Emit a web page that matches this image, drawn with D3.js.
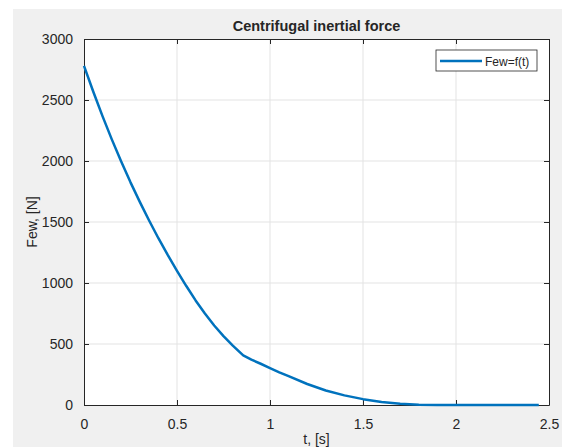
<!DOCTYPE html>
<html>
<head>
<meta charset="utf-8">
<script src="https://cdn.jsdelivr.net/npm/d3@7"></script>
<style>
  body { margin: 0; background: #fff; }
  text { font-family: "Liberation Sans", Arial, sans-serif; fill: #262626; }
</style>
</head>
<body>
<svg id="chart" width="562" height="447"></svg>
<script>
// time, s
var tValues = [0, 0.05, 0.1, 0.15, 0.2, 0.25, 0.3, 0.35, 0.4, 0.45, 0.5, 0.55,
    0.6, 0.65, 0.7, 0.75, 0.8, 0.856, 0.9, 0.95, 1.0, 1.05, 1.1, 1.2, 1.3, 1.4,
    1.5, 1.6, 1.7, 1.8, 1.9, 2.0, 2.2, 2.445];
// centrifugal inertial force, N
var fewValues = [2780, 2568, 2366, 2175, 1995, 1825, 1665, 1512, 1367, 1230, 1100, 975,
    857, 750, 652, 565, 487, 406, 372, 338, 303, 268, 236, 172, 119, 79,
    48, 25, 10, 2, 0, 0, 0, 0];
var xTicks = [0, 0.5, 1, 1.5, 2, 2.5];
var yTicks = [0, 500, 1000, 1500, 2000, 2500, 3000];

var svg = d3.select("#chart"),
    margin = {top: 39, right: 13, bottom: 42, left: 84},
    width = 562 - margin.left - margin.right,
    height = 447 - margin.top - margin.bottom;

// figure background
svg.append("rect")
    .attr("x", 13).attr("y", 9)
    .attr("width", 562 - 13).attr("height", 447 - 9)
    .attr("fill", "#f0f0f0");

var g = svg.append("g").attr("transform", "translate(" + margin.left + "," + margin.top + ")");

var x = d3.scaleLinear().domain([0, 2.5]).range([0, width]);
var y = d3.scaleLinear().domain([0, 3000]).range([height, 0]);

g.append("rect")
    .attr("width", width).attr("height", height)
    .attr("fill", "#fff");

// grid
g.append("g").selectAll("line")
    .data(xTicks.slice(1, -1))
    .enter().append("line")
    .attr("x1", function (d) { return x(d); })
    .attr("x2", function (d) { return x(d); })
    .attr("y1", 0).attr("y2", height)
    .attr("stroke", "#e3e3e3");

g.append("g").selectAll("line")
    .data(yTicks.slice(1, -1))
    .enter().append("line")
    .attr("y1", function (d) { return y(d); })
    .attr("y2", function (d) { return y(d); })
    .attr("x1", 0).attr("x2", width)
    .attr("stroke", "#e3e3e3");

// axes, ticks inside
var xAxis = g.append("g")
    .attr("transform", "translate(0," + height + ")")
    .call(d3.axisBottom(x).tickValues(xTicks).tickSizeInner(-5).tickSizeOuter(0).tickPadding(14)
        .tickFormat(d3.format("")));
var xTop = g.append("g")
    .call(d3.axisTop(x).tickValues(xTicks).tickSizeInner(-5).tickSizeOuter(0).tickFormat(""));
var yAxis = g.append("g")
    .call(d3.axisLeft(y).tickValues(yTicks).tickSizeInner(-5).tickSizeOuter(0).tickPadding(11)
        .tickFormat(d3.format("d")));
var yRight = g.append("g")
    .attr("transform", "translate(" + width + ",0)")
    .call(d3.axisRight(y).tickValues(yTicks).tickSizeInner(-5).tickSizeOuter(0).tickFormat(""));

[xAxis, xTop, yAxis, yRight].forEach(function (a) {
    a.select(".domain").attr("stroke", "#262626");
    a.selectAll(".tick line").attr("stroke", "#262626");
    a.selectAll("text").attr("font-size", 14).attr("fill", "#262626")
        .attr("font-family", "Liberation Sans, Arial, sans-serif");
});

// curve
var line = d3.line()
    .x(function (d, i) { return x(tValues[i]); })
    .y(function (d) { return y(d); });

g.append("path")
    .datum(fewValues)
    .attr("d", line)
    .attr("fill", "none")
    .attr("stroke", "#0072bd")
    .attr("stroke-width", 2.5)
    .attr("stroke-linejoin", "round");

// title and labels
g.append("text")
    .attr("x", width / 2).attr("y", -8)
    .attr("text-anchor", "middle")
    .attr("font-size", 14.5).attr("font-weight", "bold")
    .text("Centrifugal inertial force");

g.append("text")
    .attr("x", width / 2).attr("y", height + 39)
    .attr("text-anchor", "middle")
    .attr("font-size", 14)
    .text("t, [s]");

g.append("text")
    .attr("transform", "translate(-47," + (height / 2) + ") rotate(-90)")
    .attr("text-anchor", "middle")
    .attr("font-size", 14)
    .text("Few, [N]");

// legend
var legend = g.append("g").attr("transform", "translate(" + (436 - margin.left) + "," + (50 - margin.top) + ")");
legend.append("rect")
    .attr("width", 101).attr("height", 21)
    .attr("fill", "#fff").attr("stroke", "#262626").attr("stroke-width", 0.8);
legend.append("line")
    .attr("x1", 4).attr("x2", 46).attr("y1", 11).attr("y2", 11)
    .attr("stroke", "#0072bd").attr("stroke-width", 2.5);
legend.append("text")
    .attr("x", 49).attr("y", 15.5)
    .attr("font-size", 12)
    .text("Few=f(t)");
</script>
</body>
</html>
